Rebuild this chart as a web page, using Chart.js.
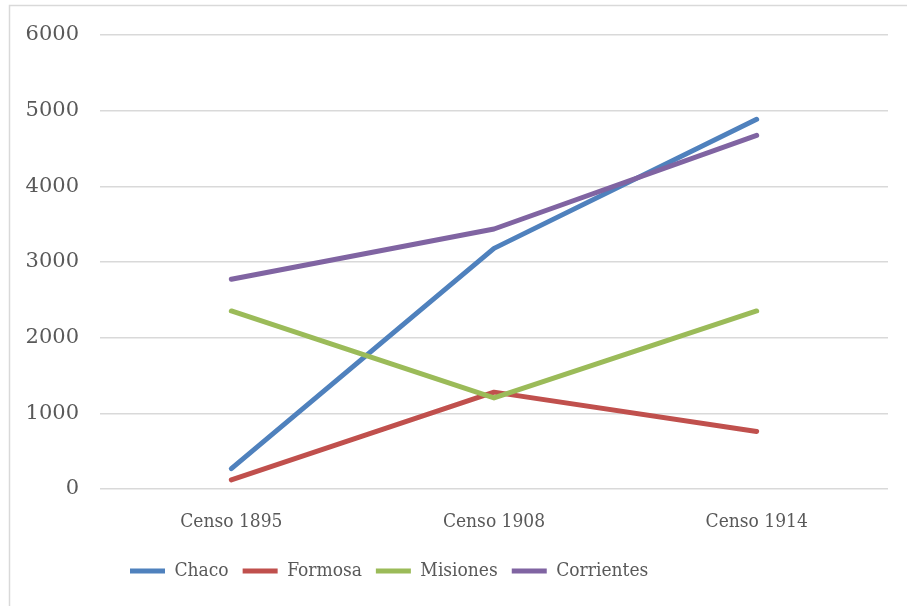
<!DOCTYPE html>
<html>
<head>
<meta charset="utf-8">
<script src="https://cdn.jsdelivr.net/npm/chart.js@4/dist/chart.umd.min.js"></script>
<style>
html,body{margin:0;padding:0;background:#fff;}
#wrap{width:907px;height:606px;position:relative;}
</style>
</head>
<body>
<div id="wrap"><canvas id="c" width="907" height="606"></canvas></div>
<script>
const categories = ['Censo 1895', 'Censo 1908', 'Censo 1914'];
const chaco = [270, 3180, 4886];
const formosa = [120, 1280, 760];
const misiones = [2353, 1203, 2353];
const corrientes = [2773, 3436, 4674];
const seriesNames = ['Chaco', 'Formosa', 'Misiones', 'Corrientes'];
const yTicks = [0, 1000, 2000, 3000, 4000, 5000, 6000];

const colors = ['#4f81bd', '#c0504d', '#9bbb59', '#8064a2'];
const allSeries = [chaco, formosa, misiones, corrientes];
const textColor = '#595959';

const frame = {
  id: 'frame',
  beforeDraw(chart) {
    const ctx = chart.ctx;
    ctx.save();
    ctx.strokeStyle = '#d9d9d9';
    ctx.lineWidth = 1.5;
    ctx.beginPath();
    ctx.moveTo(9.5, 606);
    ctx.lineTo(9.5, 5.5);
    ctx.lineTo(907, 5.5);
    ctx.stroke();
    ctx.restore();
  },
  afterLayout(chart) {
    const lg = chart.legend;
    const pad = lg.options.labels.padding;
    const fs = lg.options.labels.font.size;
    const shift = 130 - (lg.left + pad);
    lg.left += shift;
    lg.right += shift;
    lg.top = 571 - pad - fs / 2;
  }
};

new Chart(document.getElementById('c'), {
  type: 'line',
  data: {
    labels: categories,
    datasets: allSeries.map((d, i) => ({
      label: seriesNames[i],
      data: d,
      borderColor: colors[i],
      backgroundColor: colors[i],
      borderWidth: 5,
      borderCapStyle: 'round',
      borderJoinStyle: 'round',
      pointRadius: 0,
      pointHoverRadius: 0,
      tension: 0,
      fill: false,
      order: 4 - i
    }))
  },
  plugins: [frame],
  options: {
    responsive: false,
    animation: false,
    devicePixelRatio: 1,
    layout: { padding: { left: 0, right: 19, top: 35, bottom: 0 } },
    plugins: {
      tooltip: { enabled: false },
      legend: {
        position: 'bottom',
        align: 'start',
        labels: {
          usePointStyle: true,
          pointStyle: 'line',
          pointStyleWidth: 35,
          color: textColor,
          padding: 14,
          font: { family: "'DejaVu Serif Condensed', 'Liberation Serif', serif", size: 19 },
          sort: (a, b) => a.datasetIndex - b.datasetIndex
        }
      }
    },
    scales: {
      x: {
        type: 'category',
        offset: true,
        grid: { display: false, drawTicks: false },
        border: { display: false },
        ticks: {
          color: textColor,
          padding: 22,
          maxRotation: 0,
          font: { family: "'DejaVu Serif Condensed', 'Liberation Serif', serif", size: 19 }
        },
        afterFit(scale) { scale.height = 74; }
      },
      y: {
        min: 0,
        max: 6000,
        afterBuildTicks(scale) { scale.ticks = yTicks.map(v => ({ value: v })); },
        grid: { color: '#d9d9d9', lineWidth: 1.5, drawTicks: false },
        border: { display: false },
        ticks: {
          color: textColor,
          padding: 21,
          callback: (v) => String(v),
          font: { family: "'DejaVu Serif', 'Liberation Serif', serif", size: 21 }
        },
        afterFit(scale) { scale.width = 100; }
      }
    }
  }
});
</script>
</body>
</html>
